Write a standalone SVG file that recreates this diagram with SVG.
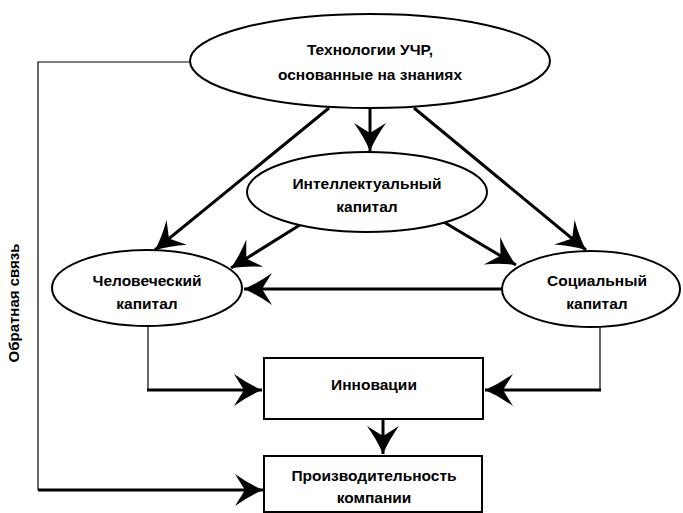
<svg xmlns="http://www.w3.org/2000/svg" width="683" height="513" viewBox="0 0 683 513">
<style>
.node{fill:#fff;stroke:#000;stroke-width:2}
.t{font-family:"Liberation Sans",Arial,sans-serif;font-weight:bold;font-size:15.5px;text-anchor:middle;fill:#000}
.thin{fill:none;stroke:#000;stroke-width:1.2}
.thick{fill:none;stroke:#000;stroke-width:3}
</style>
<defs>
<marker id="ah" markerUnits="userSpaceOnUse" viewBox="-30 -17 32 34" refX="0" refY="0" markerWidth="32" markerHeight="34" orient="auto">
<path d="M-28,-16 Q-14,-6 0,0 Q-14,6 -28,16 L-18,0 Z" fill="#000"/>
</marker>
</defs>
<rect width="683" height="513" fill="#fff"/>
<g id="connectors">
<polyline class="thin" points="190,62 38,62 38,490"/>
<line class="thick" x1="38" y1="490" x2="263" y2="490" marker-end="url(#ah)"/>
<line class="thick" x1="329" y1="108" x2="155" y2="250" marker-end="url(#ah)"/>
<line class="thick" x1="370" y1="108" x2="370" y2="151" marker-end="url(#ah)"/>
<line class="thick" x1="414" y1="108" x2="586" y2="250" marker-end="url(#ah)"/>
<line class="thick" x1="303" y1="223" x2="231" y2="268" marker-end="url(#ah)"/>
<line class="thick" x1="442" y1="221" x2="516" y2="265" marker-end="url(#ah)"/>
<line class="thick" x1="502" y1="289" x2="244" y2="289" marker-end="url(#ah)"/>
<polyline class="thin" points="148,326 148,390"/>
<line class="thick" x1="147" y1="390" x2="262" y2="390" marker-end="url(#ah)"/>
<polyline class="thin" points="600,327 600,390"/>
<line class="thick" x1="601" y1="390" x2="485" y2="390" marker-end="url(#ah)"/>
<line class="thick" x1="383" y1="419" x2="383" y2="454" marker-end="url(#ah)"/>
</g>
<g id="node-tech">
<ellipse class="node" cx="370" cy="61" rx="180" ry="47"/>
<text class="t" x="370" y="55">Технологии УЧР,</text>
<text class="t" x="370" y="80">основанные на знаниях</text>
</g>
<g id="node-intellectual">
<ellipse class="node" cx="367" cy="192" rx="120" ry="40"/>
<text class="t" x="367" y="189">Интеллектуальный</text>
<text class="t" x="367" y="212">капитал</text>
</g>
<g id="node-human">
<ellipse class="node" cx="147" cy="288" rx="95" ry="38"/>
<text class="t" x="147" y="286">Человеческий</text>
<text class="t" x="147" y="309">капитал</text>
</g>
<g id="node-social">
<ellipse class="node" cx="591" cy="289" rx="89" ry="38"/>
<text class="t" x="597" y="286">Социальный</text>
<text class="t" x="597" y="309">капитал</text>
</g>
<g id="node-innovation">
<rect class="node" x="264" y="358" width="219" height="61"/>
<text class="t" x="374" y="390">Инновации</text>
</g>
<g id="node-productivity">
<rect class="node" x="264" y="456" width="218" height="56"/>
<text class="t" x="374" y="481">Производительность</text>
<text class="t" x="374" y="503">компании</text>
</g>
<text class="t" transform="translate(19,303) rotate(-90)" style="font-size:15px">Обратная связь</text>
</svg>
